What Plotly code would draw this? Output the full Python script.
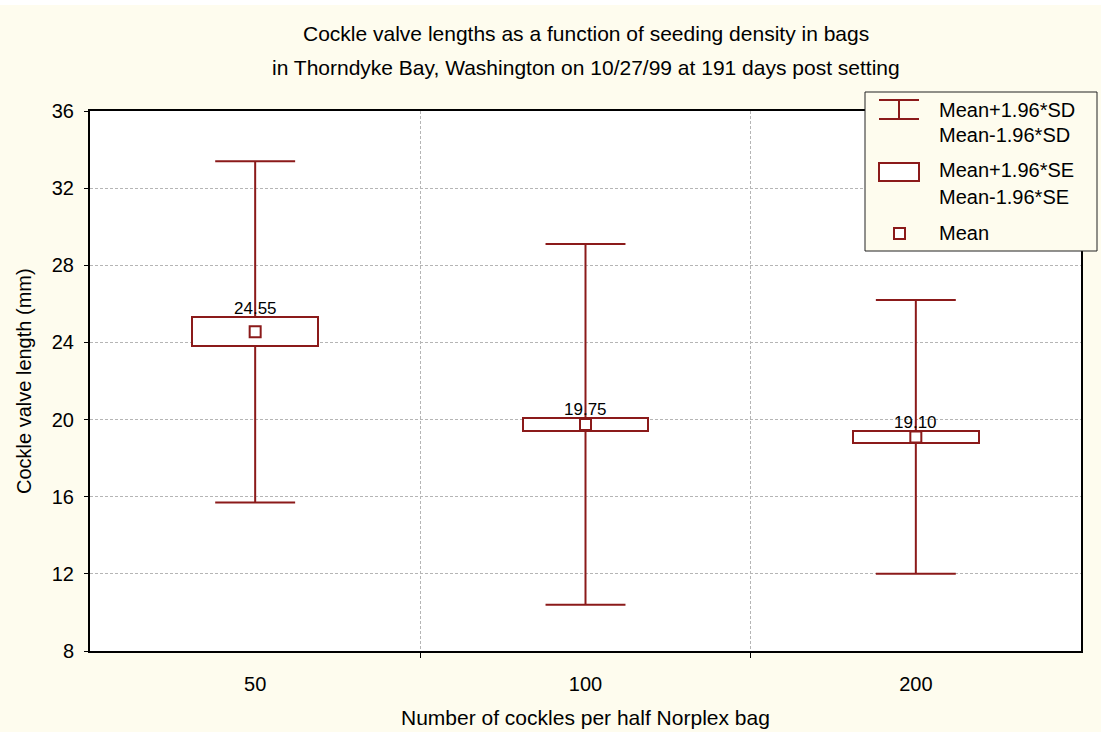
import plotly.graph_objects as go

# ---- data ----
categories = ["50", "100", "200"]
means = [24.55, 19.75, 19.10]
sd_upper = [33.40, 29.10, 26.20]
sd_lower = [15.70, 10.40, 12.00]
se_upper = [25.30, 20.10, 19.41]
se_lower = [23.82, 19.40, 18.79]
y_ticks = [8, 12, 16, 20, 24, 28, 32, 36]

title_lines = ["Cockle valve lengths as a function of seeding density in bags",
               "in Thorndyke Bay, Washington on 10/27/99 at 191 days post setting"]
x_title = "Number of cockles per half Norplex bag"
y_title = "Cockle valve length (mm)"
legend_labels = [["Mean+1.96*SD", "Mean-1.96*SD"],
                 ["Mean+1.96*SE", "Mean-1.96*SE"],
                 ["Mean"]]

# ---- style ----
RED = "#8B1A1A"
PAPER = "#FEFCEE"
FONT = "Liberation Sans, Arial, sans-serif"
W, H = 1101, 732
L, R, T, B = 90, 20, 111, 81
PW, PH = W - L - R, H - T - B
BOX_W = 0.38
CAP_HALF = 0.121

def xp(px):
    return (px - L) / PW

def yp(py):
    return (H - B - py) / PH

xs = list(range(len(categories)))

fig = go.Figure()

# SE boxes
fig.add_trace(go.Bar(
    x=xs, y=[u - l for u, l in zip(se_upper, se_lower)], base=se_lower,
    width=BOX_W, marker=dict(color="white", line=dict(color=RED, width=2)),
    showlegend=False, hoverinfo="skip"))

# SD whiskers + caps
wx, wy = [], []
for i in xs:
    wx += [i, i, None, i, i, None]
    wy += [se_upper[i], sd_upper[i], None, se_lower[i], sd_lower[i], None]
    wx += [i - CAP_HALF, i + CAP_HALF, None, i - CAP_HALF, i + CAP_HALF, None]
    wy += [sd_upper[i], sd_upper[i], None, sd_lower[i], sd_lower[i], None]
fig.add_trace(go.Scatter(x=wx, y=wy, mode="lines", line=dict(color=RED, width=2),
                         showlegend=False, hoverinfo="skip", cliponaxis=False))

# Means
fig.add_trace(go.Scatter(x=xs, y=means, mode="markers",
                         marker=dict(symbol="square", size=11, color="white",
                                     line=dict(color=RED, width=2)),
                         showlegend=False))

# Mean labels
for i in xs:
    fig.add_annotation(x=i, y=se_upper[i], text=f"{means[i]:.2f}", showarrow=False,
                       yanchor="bottom", yshift=-3,
                       font=dict(family=FONT, size=17, color="black"))

# Title lines
for line, py in zip(title_lines, [33, 68]):
    fig.add_annotation(xref="paper", yref="paper", x=0.5, y=yp(py), text=line,
                       showarrow=False, xanchor="center", yanchor="middle",
                       font=dict(family=FONT, size=21, color="black"))

# Axis titles
fig.add_annotation(xref="paper", yref="paper", x=0.5, y=yp(717), text=x_title,
                   showarrow=False, xanchor="center", yanchor="middle",
                   font=dict(family=FONT, size=21, color="black"))
fig.add_annotation(xref="paper", yref="paper", x=xp(24), y=0.5, text=y_title,
                   showarrow=False, xanchor="center", yanchor="middle", textangle=-90,
                   font=dict(family=FONT, size=20, color="black"))

# top white strip
shapes = [dict(type="rect", xref="paper", yref="paper", x0=xp(0), x1=xp(W),
               y0=yp(5), y1=yp(-2), fillcolor="white", line=dict(width=0),
               layer="above")]

# manual legend
shapes.append(dict(type="rect", xref="paper", yref="paper",
                   x0=xp(865), x1=xp(1097), y0=yp(251), y1=yp(92),
                   fillcolor=PAPER, line=dict(color="#222222", width=1), layer="above"))
for y0 in (100, 119):
    shapes.append(dict(type="line", xref="paper", yref="paper", x0=xp(879), x1=xp(919),
                       y0=yp(y0), y1=yp(y0), line=dict(color=RED, width=2), layer="above"))
shapes.append(dict(type="line", xref="paper", yref="paper", x0=xp(899), x1=xp(899),
                   y0=yp(100), y1=yp(119), line=dict(color=RED, width=2), layer="above"))
shapes.append(dict(type="rect", xref="paper", yref="paper", x0=xp(879), x1=xp(919),
                   y0=yp(181), y1=yp(163), fillcolor="white",
                   line=dict(color=RED, width=2), layer="above"))
shapes.append(dict(type="rect", xref="paper", yref="paper", x0=xp(894), x1=xp(905),
                   y0=yp(239), y1=yp(228), fillcolor="white",
                   line=dict(color=RED, width=2), layer="above"))

for labels, ys in zip(legend_labels, [[110, 135], [170, 197], [233]]):
    for lab, py in zip(labels, ys):
        fig.add_annotation(xref="paper", yref="paper", x=xp(937), y=yp(py), text=lab,
                           showarrow=False, xanchor="left", yanchor="middle",
                           font=dict(family=FONT, size=20, color="black"))

fig.update_layout(
    width=W, height=H,
    margin=dict(l=L, r=R, t=T, b=B, pad=0),
    paper_bgcolor=PAPER, plot_bgcolor="white",
    font=dict(family=FONT, size=20, color="black"),
    showlegend=False, bargap=0, shapes=shapes,
    xaxis=dict(range=[-0.5, 2.5], tickvals=xs, ticktext=categories, ticks="",
               showgrid=False, zeroline=False, showline=True, linecolor="black",
               linewidth=2, mirror=True, ticklabelstandoff=14,
               tickfont=dict(size=20),
               minor=dict(tickvals=[0.5, 1.5], ticks="outside", ticklen=5,
                          tickcolor="black", showgrid=True, gridcolor="#b5b5b5",
                          gridwidth=1, griddash="3px,2px")),
    yaxis=dict(range=[8, 36], tickvals=y_ticks, ticks="outside", ticklen=4,
               tickcolor="black", showgrid=True, gridcolor="#b5b5b5", gridwidth=1,
               griddash="3px,2px", zeroline=False, showline=True, linecolor="black",
               linewidth=2, mirror=True, ticklabelstandoff=6,
               tickfont=dict(size=20)),
)

fig.write_html("out.html", config={"displayModeBar": False},
               post_script="document.body.style.margin='0';document.body.style.overflow='hidden';")
